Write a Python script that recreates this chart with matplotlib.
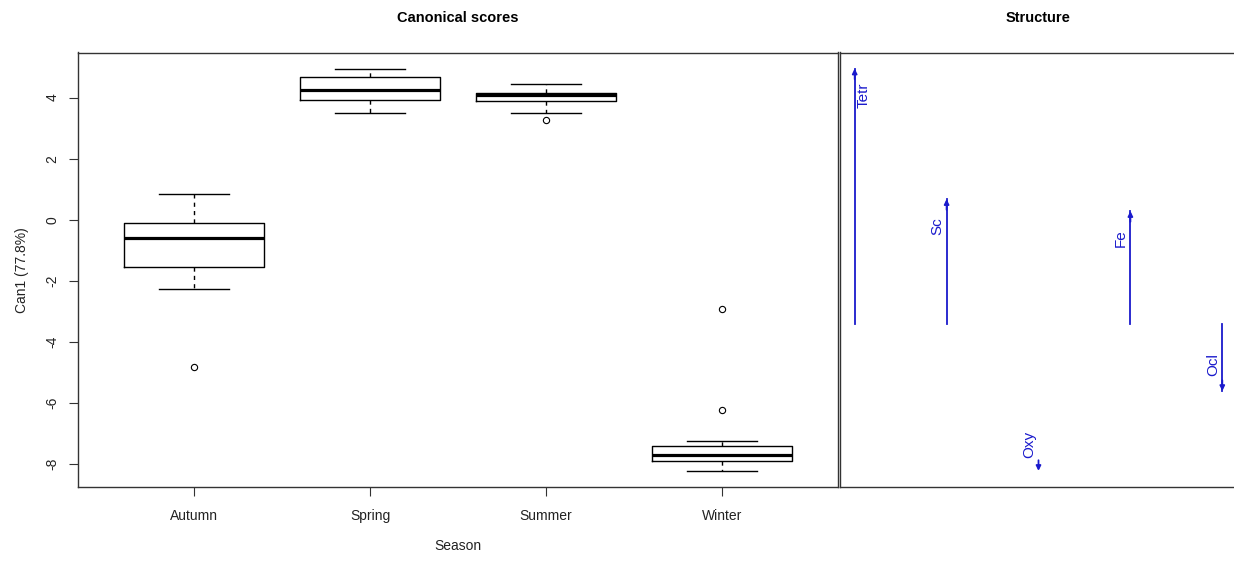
import numpy as np
import matplotlib
matplotlib.use('Agg')
import matplotlib.pyplot as plt

plt.rcParams['font.family'] = ['Liberation Sans', 'DejaVu Sans']

# canonical scores (box summary)
seasons = ['Autumn', 'Spring', 'Summer', 'Winter']
whislo = [-2.26, 3.49, 3.51, -8.23]
q1 = [-1.54, 3.93, 3.88, -7.91]
med = [-0.59, 4.25, 4.09, -7.70]
q3 = [-0.12, 4.69, 4.15, -7.43]
whishi = [0.85, 4.95, 4.46, -7.25]
fliers = [[-4.82], [], [3.25], [-2.93, -6.24]]

# structure coefficients
variables = ['Tetr', 'Sc', 'Oxy', 'Fe', 'Ocl']
structure = [0.96, 0.47, -0.55, 0.425, -0.25]
label_side = [1, -1, -1, -1, -1]
shaft_shown = [True, True, False, True, True]

y_ticks = [-8, -6, -4, -2, 0, 2, 4]

W, H = 1234, 561
fig = plt.figure(figsize=(W / 100, H / 100), dpi=100)
frame = '#333333'
txt = '#222222'

ax = fig.add_axes([78 / W, 1 - 487 / H, (838 - 78) / W, (487 - 52.5) / H])
stats = []
for i, s in enumerate(seasons):
    stats.append(dict(label=s, whislo=whislo[i], q1=q1[i], med=med[i], q3=q3[i],
                      whishi=whishi[i], fliers=fliers[i]))
ax.bxp(stats, positions=np.arange(1, len(seasons) + 1), widths=0.8,
       boxprops=dict(color='black', lw=1.0),
       medianprops=dict(color='black', lw=2.3),
       whiskerprops=dict(color='black', lw=1.0, linestyle=(0, (3, 3))),
       capprops=dict(color='black', lw=1.0),
       capwidths=0.4,
       flierprops=dict(marker='o', markersize=4.5, markerfacecolor='none',
                       markeredgecolor='black', markeredgewidth=0.8))
ax.set_xlim(0.34, 4.66)
all_vals = whislo + whishi + [v for f in fliers for v in f]
lo, hi = min(all_vals), max(all_vals)
pad = 0.04 * (hi - lo)
ax.set_ylim(lo - pad, hi + pad)
ax.set_yticks(y_ticks)
ax.set_yticklabels([str(t) for t in y_ticks], rotation=90, va='center')
ax.set_xticks(np.arange(1, len(seasons) + 1))
ax.set_xticklabels(seasons)
ax.tick_params(axis='both', length=6.5, width=0.8, color=frame, labelsize=10,
               labelcolor=txt)
ax.tick_params(axis='y', pad=7)
ax.tick_params(axis='x', pad=9)
for sp in ax.spines.values():
    sp.set_color(frame)
    sp.set_linewidth(1.0)
ax.set_ylabel('Can1 (77.8%)', fontsize=10, color=txt, labelpad=12)
ax.set_xlabel('Season', fontsize=10, color=txt, labelpad=12)
ax.set_title('Canonical scores', fontsize=10.5, fontweight='bold', color='black', pad=22)

# structure panel
ax2 = fig.add_axes([840 / W, 1 - 487 / H, (1237 - 840) / W, (487 - 52.5) / H])
xpos = np.arange(1, len(variables) + 1)
ax2.set_xlim(0.84, 5.16)
s_lo, s_hi = min(0, min(structure)), max(0, max(structure))
s_pad = 0.04 * (s_hi - s_lo)
ax2.set_ylim(s_lo - s_pad, s_hi + s_pad)
blue = '#1a1acc'
for x, c, name, side, shown in zip(xpos, structure, variables, label_side, shaft_shown):
    sgn = np.sign(c)
    if shown:
        ax2.plot([x, x], [0, c], color=blue, lw=1.3)
    ax2.annotate('', xy=(x, c), xytext=(x, c - sgn * 0.04),
                 arrowprops=dict(arrowstyle='-|>', color=blue, lw=1.3,
                                 mutation_scale=7, shrinkA=0, shrinkB=0))
    ax2.text(x + side * 0.1, c - sgn * 0.1, name, rotation=90, color=blue,
             fontsize=11, ha='center', va='center')
ax2.set_xticks([])
ax2.set_yticks([])
for sp in ax2.spines.values():
    sp.set_color(frame)
    sp.set_linewidth(1.0)
ax2.set_title('Structure', fontsize=10.5, fontweight='bold', color='black', pad=22)

fig.savefig('out.png', dpi=100)
